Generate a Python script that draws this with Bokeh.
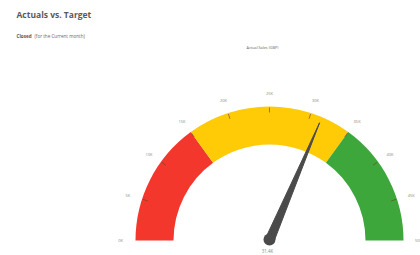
import math
from bokeh.plotting import figure
from bokeh.models import ColumnDataSource, Range1d
from bokeh.embed import file_html
from bokeh.resources import INLINE
from bokeh.core.properties import value

title = "Actuals vs. Target"
subtitle_bold = "Closed"
subtitle = "(for the Current month)"
gauge_title = "Actual Sales (GBP)"
band_from = [0, 15, 35]
band_to = [15, 35, 50]
band_colors = ["#F4372C", "#FFCA06", "#3DA73B"]
tick_values = [0, 5, 10, 15, 20, 25, 30, 35, 40, 45, 50]
tick_labels = ["0K", "5K", "10K", "15K", "20K", "25K", "30K", "35K", "40K", "45K", "50K"]
gmin, gmax = 0, 50
actual = 31.4
actual_label = "31.4K"

W, H = 420, 255
p = figure(width=W, height=H, output_backend="svg", toolbar_location=None,
           x_range=Range1d(0, W), y_range=Range1d(0, H), min_border=0)
p.axis.visible = False
p.grid.visible = False
p.outline_line_color = None
p.background_fill_color = "white"

cx, cy = 269, 15
r_in, r_out = 96, 134
F = value("Open Sans")

def ang(v):
    return math.pi * (1 - (v - gmin) / (gmax - gmin))

src = ColumnDataSource(dict(
    start=[ang(t) for t in band_to], end=[ang(f) for f in band_from], color=band_colors))
p.annular_wedge(x=cx, y=cy, inner_radius=r_in, outer_radius=r_out, start_angle="start",
                end_angle="end", color="color", line_color=None, source=src)

# minor ticks
tx0, ty0, tx1, ty1 = [], [], [], []
for t in tick_values[1:-1]:
    a = ang(t)
    tx0.append(cx + (r_out - 6) * math.cos(a)); ty0.append(cy + (r_out - 6) * math.sin(a))
    tx1.append(cx + (r_out - 1) * math.cos(a)); ty1.append(cy + (r_out - 1) * math.sin(a))
p.segment(tx0, ty0, tx1, ty1, line_color="#5a4a20", line_width=1, line_alpha=0.6)

# tick labels
lx = [cx + 149 * math.cos(ang(t)) for t in tick_values]
ly = [cy + 147 * math.sin(ang(t)) for t in tick_values]
p.text(lx, ly, text=tick_labels, text_font=F, text_font_size="4px",
       text_color="#888888", text_align="center", text_baseline="middle")

# needle
a = ang(actual)
L, w = 128, 4.5
nx = [cx + L * math.cos(a), cx + w * math.cos(a + math.pi / 2), cx + w * math.cos(a - math.pi / 2)]
ny = [cy + L * math.sin(a), cy + w * math.sin(a + math.pi / 2), cy + w * math.sin(a - math.pi / 2)]
p.patch(nx, ny, fill_color="#4a4a4a", line_color="#4a4a4a")
p.scatter([cx], [cy + 1], size=12, fill_color="#4a4a4a", line_color=None)

p.text([cx - 2], [cy - 10], text=[actual_label], text_font=F, text_font_size="4.5px",
       text_color="#888888", text_align="center", text_baseline="middle")

# titles
p.text([16], [H - 14], text=[title], text_font=F, text_font_size="8.5px",
       text_font_style="bold", text_color="#5a5a5a", text_baseline="middle")
p.text([16], [H - 35], text=[subtitle_bold], text_font=F, text_font_size="4.6px",
       text_font_style="bold", text_color="#555555", text_baseline="middle")
p.text([34], [H - 35], text=[subtitle], text_font=F, text_font_size="4.6px",
       text_color="#666666", text_baseline="middle")
p.text([262], [H - 47], text=[gauge_title], text_font=F, text_font_size="3.8px",
       text_color="#666666", text_align="center", text_baseline="middle")

open("out.html", "w").write(file_html(p, INLINE))
